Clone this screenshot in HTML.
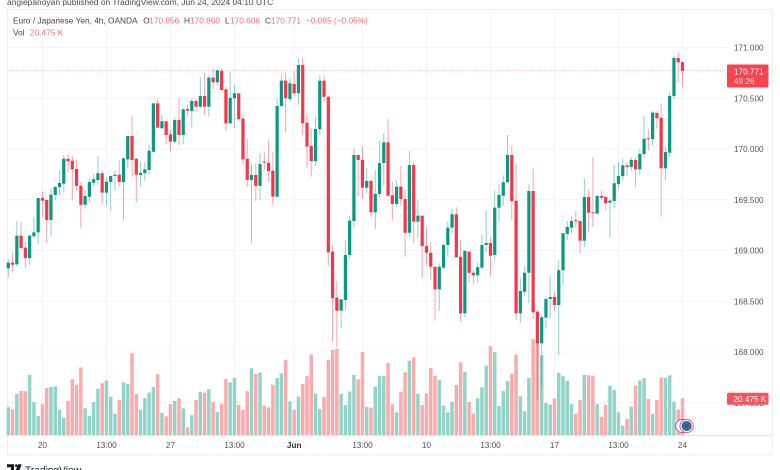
<!DOCTYPE html>
<html lang="en">
<head>
<meta charset="utf-8">
<title>EUR/JPY 4h chart</title>
<style>
html,body{margin:0;padding:0;background:#fff;width:780px;height:470px;overflow:hidden}
svg{display:block;filter:blur(0.32px)}
text{font-family:"Liberation Sans",sans-serif}
</style>
</head>
<body>
<svg id="chart" xmlns="http://www.w3.org/2000/svg" width="780" height="470" viewBox="0 0 780 470">
  <rect x="0" y="0" width="780" height="470" fill="#ffffff"/>
  <rect x="7.5" y="9.5" width="765" height="445.5" fill="#ffffff" stroke="#eceef2" stroke-width="1"/>
  <g id="grid"></g>
  <g id="volumes"></g>
  <g id="priceLine"></g>
  <g id="candles"></g>
  <line x1="7.5" x2="772" y1="435.5" y2="435.5" stroke="#e4e6eb" stroke-width="1"/>
  <g id="priceAxis" font-size="8.2" fill="#555"></g>
  <g id="timeAxis" font-size="8.2" fill="#555"></g>

  <text x="7" y="5" font-size="8.45" fill="#4a4a4a">angiepanoyan published on TradingView.com, Jun 24, 2024 04:10 UTC</text>

  <g font-size="8.3">
    <text x="13" y="23.6" fill="#444">Euro / Japanese Yen, 4h, OANDA</text>
    <text x="143.3" y="23.6" fill="#444">O</text>
    <text x="149.3" y="23.6" fill="#f4717c">170.856</text>
    <text x="184" y="23.6" fill="#444">H</text>
    <text x="190" y="23.6" fill="#f4717c">170.860</text>
    <text x="225" y="23.6" fill="#444">L</text>
    <text x="230" y="23.6" fill="#f4717c">170.606</text>
    <text x="265" y="23.6" fill="#444">C</text>
    <text x="271" y="23.6" fill="#f4717c">170.771</text>
    <text x="306" y="23.6" fill="#f4717c">−0.085 (−0.05%)</text>
    <text x="13" y="35.6" fill="#444">Vol</text>
    <text x="30" y="35.6" fill="#f4717c">20.475 K</text>
  </g>

  <g>
    <rect x="727" y="64.5" width="41.5" height="23" rx="1.5" fill="#f7444f"/>
    <text x="734" y="74.3" font-size="8.2" fill="#fff">170.771</text>
    <text x="734" y="84.2" font-size="8.2" fill="#ffd5d8">49:26</text>
  </g>
  <g>
    <rect x="727" y="392.7" width="41.5" height="12" rx="1.5" fill="#f4555a"/>
    <text x="733.5" y="401.8" font-size="8.2" fill="#fff">20.475 K</text>
  </g>

  <g>
    <circle cx="682.3" cy="426" r="6.6" fill="#fff" stroke="#b84bd1" stroke-width="1"/>
    <circle cx="686.6" cy="426" r="6.6" fill="#fff" stroke="#f4606c" stroke-width="1.1"/>
    <circle cx="686.6" cy="426" r="5" fill="#1f5fa8"/>
    <circle cx="686.6" cy="426" r="3" fill="none" stroke="#b8a94a" stroke-width=".7" stroke-dasharray="1 1"/>
  </g>

  <g>
    <path d="M7 464.3h7v8h-3v-5h-4zM14.8 472.3l3.4-8h3.6l-3.4 8z" fill="#131722"/>
    <circle cx="16.3" cy="465.6" r="1.3" fill="#131722"/>
    <text x="25" y="473.5" font-size="10.2" fill="#131722">TradingView</text>
  </g>
</svg>

<script>
const opens = [
168.825,168.880,168.864,169.146,169.028,168.926,169.140,169.179,169.517,169.498,
169.301,169.547,169.626,169.658,169.904,169.885,169.803,169.638,169.451,169.530,
169.668,169.695,169.761,169.570,169.675,169.734,169.747,169.675,169.897,170.128,
169.904,169.744,169.761,169.793,169.973,170.450,170.204,170.273,170.145,170.072,
170.286,170.138,170.394,170.374,170.473,170.417,170.522,170.417,170.703,170.657,
170.771,170.588,170.253,170.500,170.549,170.299,169.904,169.695,169.744,169.636,
169.875,169.865,169.786,169.530,170.424,170.673,170.493,170.640,170.549,170.828,
170.259,170.030,169.882,170.194,170.673,170.515,168.988,168.535,168.407,168.512,
168.956,169.291,169.941,169.892,169.619,169.685,169.376,169.557,169.862,170.066,
169.544,169.458,169.629,169.507,169.175,169.842,169.284,169.343,169.044,168.978,
168.840,168.618,168.831,169.054,169.225,169.357,168.939,168.381,168.988,168.781,
168.756,168.831,169.054,169.074,168.956,169.422,169.540,169.672,169.941,169.491,
168.381,168.594,168.781,169.586,168.397,168.086,168.338,168.522,168.542,168.463,
168.805,169.163,169.225,169.298,169.291,169.097,169.527,169.376,169.363,169.537,
169.527,169.471,169.488,169.655,169.734,169.839,169.823,169.892,169.800,169.951,
170.105,170.098,170.355,170.308,169.810,169.964,170.522,170.897,170.856];
const highs = [
168.913,168.982,169.288,169.281,169.091,169.160,169.327,169.517,169.583,169.505,
169.613,169.636,169.786,169.941,169.951,169.931,169.892,169.678,169.596,169.702,
169.754,169.931,169.793,169.721,169.741,169.793,169.892,169.918,170.128,170.325,
169.911,169.875,169.882,170.042,170.453,170.500,170.342,170.273,170.187,170.303,
170.503,170.401,170.431,170.496,170.496,170.706,170.746,170.726,170.795,170.785,
170.795,170.614,170.762,170.631,170.549,170.335,170.105,169.852,169.865,169.961,
169.973,170.089,169.968,170.500,170.729,170.752,170.697,170.771,170.894,170.894,
170.345,170.204,170.318,170.729,170.719,170.525,169.054,168.700,168.522,169.104,
169.340,170.007,169.941,170.023,169.810,169.695,169.793,170.079,170.155,170.296,
169.678,169.695,169.833,169.603,169.980,169.875,169.498,169.343,169.229,169.081,
168.840,168.874,169.077,169.281,169.416,169.426,169.104,169.005,168.988,168.808,
168.884,169.163,169.399,169.126,169.589,169.655,169.741,170.138,170.030,169.852,
168.736,168.847,169.652,169.810,168.414,168.365,168.545,168.742,168.594,168.906,
169.175,169.291,169.333,169.392,169.291,169.711,169.596,169.918,169.550,169.589,
169.547,169.507,169.842,169.875,169.905,169.875,169.918,169.918,170.000,170.325,
170.194,170.374,170.374,170.450,170.017,170.565,170.919,170.953,170.860];
const lows = [
168.732,168.785,168.840,169.005,168.831,168.857,169.130,169.064,169.327,169.071,
169.136,169.498,169.547,169.576,169.773,169.498,169.589,169.225,169.412,169.475,
169.636,169.642,169.458,169.445,169.392,169.589,169.629,169.294,169.813,169.727,
169.478,169.629,169.688,169.744,169.970,170.210,170.204,170.049,169.973,170.056,
170.037,170.049,170.318,170.214,170.368,170.401,170.335,170.318,170.588,170.621,
170.581,170.177,170.246,170.204,170.286,169.845,169.629,169.071,169.488,169.498,
169.786,169.678,169.448,169.530,170.417,170.161,170.466,170.515,170.434,170.138,
169.816,169.727,169.833,170.138,170.466,168.847,168.102,168.049,168.234,168.407,
168.923,169.219,169.537,169.507,169.564,169.327,169.215,169.530,169.636,169.530,
169.307,169.426,169.448,168.939,169.136,169.077,169.120,168.732,168.857,168.709,
168.308,168.404,168.818,168.939,169.170,168.933,168.299,168.342,168.683,168.667,
168.683,168.815,168.982,168.752,168.900,169.281,169.439,169.672,169.307,168.315,
168.289,168.552,168.480,168.328,167.527,167.665,168.234,168.332,168.404,167.964,
168.660,169.104,169.170,169.225,168.969,169.032,169.185,169.235,169.357,169.498,
169.399,169.130,169.412,169.613,169.688,169.734,169.786,169.623,169.744,169.918,
169.990,170.039,170.200,169.333,169.695,169.918,170.490,170.663,170.606];
const closes = [
168.880,168.860,169.146,169.025,168.926,169.146,169.179,169.517,169.491,169.301,
169.550,169.626,169.665,169.904,169.879,169.800,169.636,169.451,169.537,169.675,
169.702,169.761,169.570,169.678,169.734,169.747,169.675,169.908,170.128,169.892,
169.747,169.764,169.800,169.983,170.450,170.210,170.273,170.138,170.072,170.286,
170.138,170.391,170.377,170.473,170.417,170.522,170.417,170.703,170.657,170.775,
170.581,170.253,170.505,170.549,170.293,169.897,169.695,169.744,169.636,169.852,
169.865,169.783,169.530,170.424,170.673,170.500,170.647,170.549,170.828,170.253,
170.023,169.882,170.197,170.673,170.515,168.982,168.529,168.407,168.519,168.956,
169.294,169.941,169.892,169.619,169.685,169.376,169.557,169.862,170.066,169.540,
169.458,169.629,169.507,169.175,169.842,169.284,169.343,169.044,168.978,168.840,
168.618,168.840,169.054,169.225,169.357,168.933,168.381,168.995,168.781,168.756,
168.835,169.054,169.074,168.949,169.422,169.547,169.672,169.941,169.488,168.381,
168.601,168.781,169.586,168.391,168.086,168.342,168.522,168.542,168.463,168.805,
169.170,169.232,169.291,169.288,169.097,169.527,169.372,169.370,169.537,169.520,
169.465,169.491,169.662,169.734,169.839,169.823,169.892,169.800,169.951,170.102,
170.098,170.358,170.303,169.810,169.970,170.522,170.897,170.854,170.771];
const volumes = [
15.5,14.4,22.9,24.5,24.4,33.4,18.3,10.7,17.2,26.2,
26.8,27.1,14.2,9.8,19.0,31.0,28.0,37.6,14.9,10.7,
18.3,25.8,28.8,30.3,21.4,12.0,19.6,29.3,28.4,45.4,
22.9,14.2,20.5,23.6,26.8,33.8,12.4,10.5,17.2,19.0,
20.5,14.9,4.4,11.1,19.6,24.0,23.6,25.5,18.5,12.9,
17.3,31.2,29.3,31.9,16.8,14.2,24.4,37.1,33.9,34.7,
16.4,15.5,28.0,31.7,34.3,41.7,18.8,14.0,21.4,28.4,
32.8,44.8,23.1,14.6,21.2,41.7,47.2,48.0,22.9,16.8,
24.2,33.4,31.0,46.1,15.7,15.3,26.9,32.8,32.8,40.0,
17.2,12.7,24.0,34.9,41.3,43.2,22.9,16.8,23.2,37.3,
32.8,30.6,16.4,12.7,18.5,27.9,40.4,35.1,18.5,12.0,
20.5,26.6,38.6,49.3,46.1,16.2,24.5,30.1,34.1,44.8,
21.6,13.3,31.7,53.1,53.1,44.3,17.9,17.0,20.3,34.5,
32.7,30.1,17.2,11.8,19.6,33.4,33.2,32.8,17.2,10.3,
16.8,27.5,25.1,12.7,5.4,9.0,15.9,27.5,30.3,31.7,
20.1,11.8,19.6,32.1,31.7,33.2,18.6,14.2,20.475];
const priceTicks = [171.0,170.5,170.0,169.5,169.0,168.5,168.0,167.5];
const timeLabels = ["20","13:00","27","13:00","Jun","13:00","10","13:00","17","13:00","24"];
const timeBars = [8,23,38,53,67,83,98,113,128,143,158];
const lastPrice = 170.771;

const NS = "http://www.w3.org/2000/svg";
function xScale(i){ return 8.3 + 4.267 * i; }
function yScale(p){ return 47.5 + (171 - p) * 101.5; }
function vScale(v){ return 435.3 - v * 1.807; }
function make(tag, attrs){
  const el = document.createElementNS(NS, tag);
  for (const k in attrs) el.setAttribute(k, attrs[k]);
  return el;
}

const gridG = document.getElementById('grid');
priceTicks.forEach(function(p){
  const l = make('line', {x1:7.5, x2:727, y1:yScale(p), y2:yScale(p), stroke:'#f3f4f6', 'stroke-width':1});
  
  
  gridG.appendChild(l);
});
timeBars.forEach(function(b){
  const l = make('line', {x1:xScale(b), x2:xScale(b), y1:9.5, y2:435.5, stroke:'#f3f4f6', 'stroke-width':1});
  
  
  gridG.appendChild(l);
});

const volG = document.getElementById('volumes');
volumes.forEach(function(v, i){
  const up = closes[i] >= opens[i];
  const top = vScale(v);
  const r = make('rect', {x:xScale(i)-1.75, y:top, width:3.5, height:vScale(0)-top, fill: up ? '#93d4c9' : '#fbabab'});
  
  
  volG.appendChild(r);
});

const pl = make('line', {x1:7.5, x2:727, y1:yScale(lastPrice), y2:yScale(lastPrice), stroke:'#f7a3aa', 'stroke-width':0.8, 'stroke-dasharray':'1 1.2'});


document.getElementById('priceLine').appendChild(pl);

const candleG = document.getElementById('candles');
opens.forEach(function(o, i){
  const c = closes[i];
  const up = c >= o;
  const col = up ? '#089981' : '#f7344a';
  const g = make('g', {});
  
  
  const w = make('rect', {x:xScale(i)-0.5, y:yScale(highs[i]), width:1, height:yScale(lows[i])-yScale(highs[i]), fill:col, 'fill-opacity':0.45});
  
  
  g.appendChild(w);
  const bt = yScale(Math.max(o, c));
  const bb = yScale(Math.min(o, c));
  const b = make('rect', {x:xScale(i)-1.6, y:bt, width:3.2, height:Math.max(bb-bt, 1), fill:col});
  
  
  g.appendChild(b);
  candleG.appendChild(g);
});

const paG = document.getElementById('priceAxis');
priceTicks.forEach(function(p){
  const t = make('text', {x:734, y:yScale(p)+3});
  
  
  t.textContent = p.toFixed(3);
  paG.appendChild(t);
});

const taG = document.getElementById('timeAxis');
timeLabels.forEach(function(s, i){
  const t = make('text', {x:xScale(timeBars[i]), y:448, 'text-anchor':'middle'});
  if (s === 'Jun') { t.setAttribute('font-weight', 'bold'); t.setAttribute('fill', '#333'); }
  
  
  t.textContent = s;
  taG.appendChild(t);
});
</script>
</body>
</html>
